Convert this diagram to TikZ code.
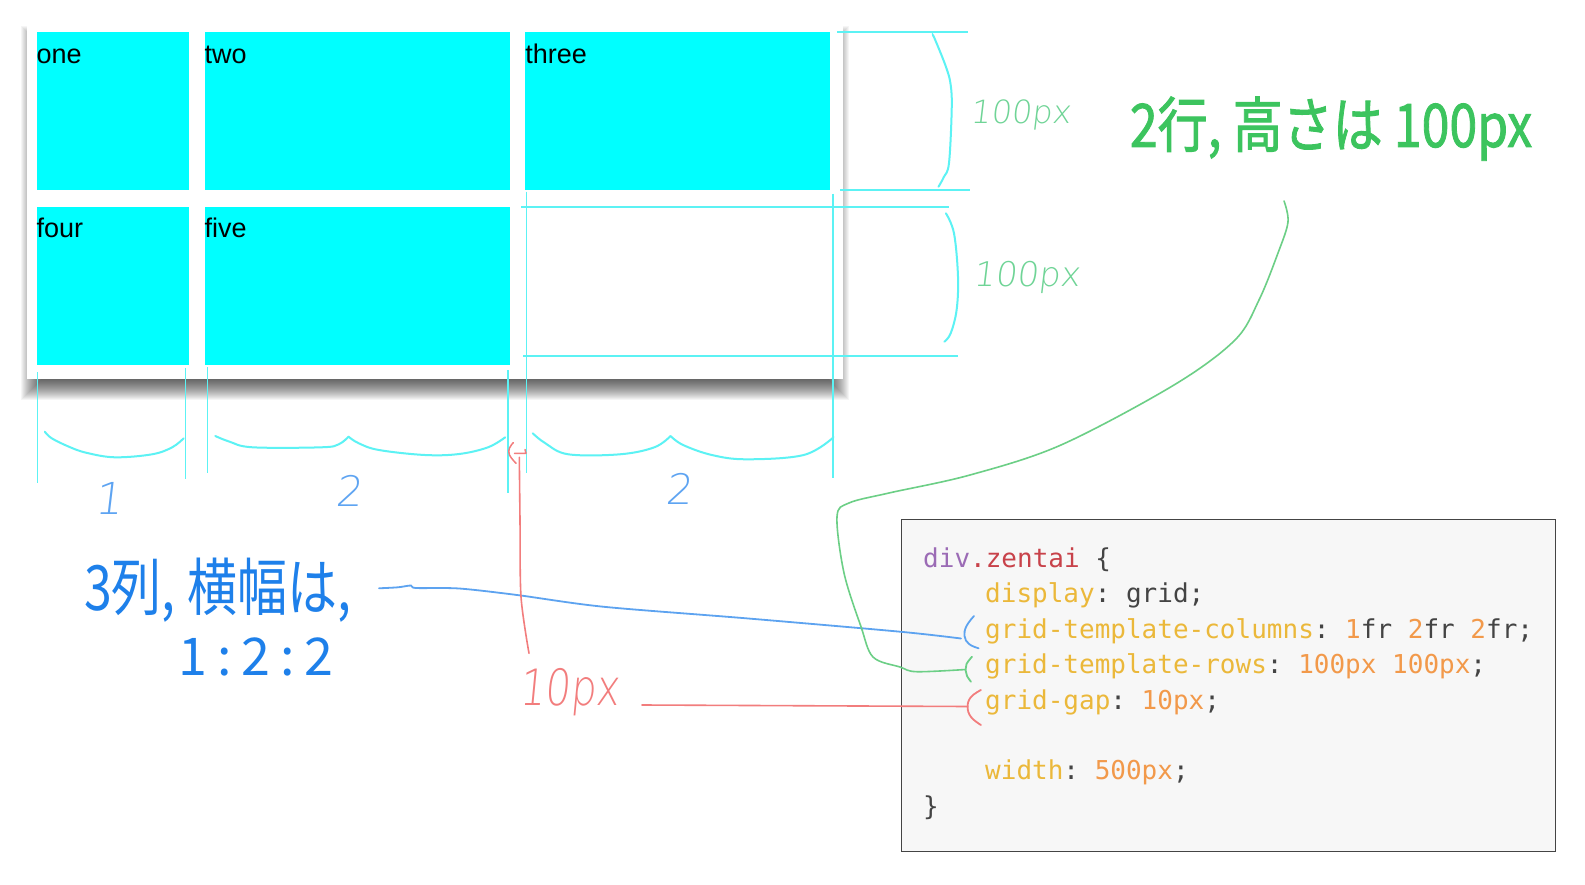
\documentclass[tikz,border=0pt]{standalone}
\usepackage{fontspec}
\setmainfont{Liberation Sans}
\newfontfamily\jp{Noto Sans CJK JP}
\newfontfamily\jpb[FakeBold=1.6]{Noto Sans CJK JP}
\newfontfamily\thinf[FakeSlant=0.12]{DejaVu Sans ExtraLight}
\newfontfamily\codef{DejaVu Sans Mono}
\definecolor{cellcyan}{HTML}{00FFFF}
\definecolor{anncyan}{HTML}{5CF2F4}
\definecolor{thingreen}{HTML}{6FD496}
\definecolor{boldgreen}{HTML}{3CC45E}
\definecolor{curvegreen}{HTML}{6CCF86}
\definecolor{blueT}{HTML}{1E80EA}
\definecolor{blueD}{HTML}{5EA4F2}
\definecolor{blueL}{HTML}{5DA3F0}
\definecolor{redann}{HTML}{F27D7D}
\definecolor{codebg}{HTML}{F7F7F7}
\definecolor{cpurple}{HTML}{9B6BB5}
\definecolor{cred}{HTML}{C8424A}
\definecolor{cgold}{HTML}{EBB83A}
\definecolor{corange}{HTML}{F2994A}
\definecolor{cgray}{HTML}{444444}
\newcommand{\pr}[1]{\textcolor{cgold}{#1}}
\newcommand{\vl}[1]{\textcolor{corange}{#1}}
\newcommand{\pn}[1]{\textcolor{cgray}{#1}}
\begin{document}
\begin{tikzpicture}[x=1pt,y=-1pt,
  cell/.style={fill=cellcyan,draw=none,inner sep=0,anchor=north west,minimum width=#1},
  celltext/.style={anchor=base west,inner sep=0,font=\fontsize{27}{32}\selectfont},
  cyanv/.style={draw=anncyan,line width=1.3pt},
  cyanh/.style={draw=anncyan,line width=2.2pt},
  cyanb/.style={draw=anncyan,line width=2pt,line cap=round},
  codeline/.style={anchor=base west,inner sep=0,font=\codef\fontsize{26}{30}\selectfont},
  thinlbl/.style={anchor=base west,inner sep=0},
  conn/.style={line width=1.8pt,line cap=round,line join=round}]
\useasboundingbox (0,0) rectangle (1585,885);
\fill[white] (0,0) rectangle (1585,885);
% card shadow
\foreach \d in {-14,...,14}
  \fill[black,opacity=0.04] (35-\d,40-\d) rectangle (835+\d,386+\d);
\node[fill=white,inner sep=0,anchor=north west,minimum width=816pt,minimum height=358pt] (card) at (27,20.5) {};
% cells
\node[cell=152.3pt,minimum height=158pt] (c1) at (36.3,32.3) {};
\node[cell=305.2pt,minimum height=158pt] (c2) at (204.3,32.3) {};
\node[cell=304.6pt,minimum height=158pt] (c3) at (525.2,32.3) {};
\node[cell=152.3pt,minimum height=158.3pt] (c4) at (36.3,206.7) {};
\node[cell=305.2pt,minimum height=158.3pt] (c5) at (204.3,206.7) {};
\node[celltext] (t1) at (36.3,63.3) {one};
\node[celltext] (t2) at (204.3,63.3) {two};
\node[celltext] (t3) at (525.2,63.3) {three};
\node[celltext] (t4) at (36.3,237.5) {four};
\node[celltext] (t5) at (204.3,237.5) {five};
% cyan measurement lines (right)
\draw[cyanh] (837,32.3) -- (968,32.3);
\draw[cyanh] (840,190) -- (970,190);
\draw[cyanh] (521,206.7) -- (949,206.7);
\draw[cyanh] (523,356) -- (958,356);
\draw[cyanv] (526.8,191.7) -- (526.8,473.3);
\draw[cyanv] (833,194) -- (833,478.3);
\draw[cyanb] plot[smooth,tension=0.6] coordinates {(933,36) (934.6,38.5) (945.9,66.7) (950.7,85) (951.7,110) (949,163) (944,176.7) (938.5,186.7)};
\draw[cyanb] plot[smooth,tension=0.6] coordinates {(945.9,213.3) (954,233.3) (958,276.7) (956.6,310) (950.7,333.3) (944.4,341.7)};
% cyan measurement lines (bottom)
\draw[cyanv] (37.3,372) -- (37.3,483.3);
\draw[cyanv] (185.4,368) -- (185.4,479.3);
\draw[cyanv] (207.8,367) -- (207.8,472.7);
\draw[cyanv] (508,370) -- (508,493.3);
\draw[cyanb] plot[smooth,tension=0.6] coordinates {(44.8,431.7) (51.7,438.3) (68.9,446.7) (86.1,452.7) (114.8,457.3) (152.1,454.3) (172.2,447.3) (183.7,438.3)};
\draw[cyanb] plot[smooth,tension=0.6] coordinates {(215.3,436) (229.6,441.7) (252.6,447.3) (321.5,447.3) (338.7,444.3) (348.5,436.7)};
\draw[cyanb] plot[smooth,tension=0.6] coordinates {(348.5,436.7) (358.8,443.3) (378.9,450) (424.8,455) (459.2,454) (488,447.3) (505.2,437.3)};
\draw[cyanb] plot[smooth,tension=0.6] coordinates {(532.7,433.3) (545.4,443.3) (568.3,454.3) (620,454.3) (654.4,447.3) (670.5,436)};
\draw[cyanb] plot[smooth,tension=0.6] coordinates {(670.5,436) (683.1,445) (711.8,455) (746.3,459.3) (803.7,455) (833.5,437.3)};
% thin labels
\node[thinlbl,text=thingreen,font=\thinf\fontsize{32}{36}\selectfont] (h1) at (970,123.5) {100px};
\node[thinlbl,text=thingreen,font=\thinf\fontsize{34}{38}\selectfont] (h2) at (973,287) {100px};
\node[thinlbl,text=blueD,font=\thinf\fontsize{44}{48}\selectfont] (d1) at (94,514) {1};
\node[thinlbl,text=blueD,font=\thinf\fontsize{42}{48}\selectfont] (d2) at (335,506) {2};
\node[thinlbl,text=blueD,font=\thinf\fontsize{42}{48}\selectfont] (d3) at (665,504) {2};
\node[thinlbl,text=redann,font=\thinf\fontsize{40}{48}\selectfont] (gap) at (519,705) {\scalebox{1}[1.25]{10px}};
% japanese annotations
\node[anchor=base,inner sep=0,text=boldgreen,font=\jpb\fontsize{50}{56}\selectfont] (rows) at (1331,147) {\scalebox{1}[1.2]{2行, 高さは 100px}};
\node[anchor=base west,inner sep=0,text=blueT,font=\jp\fontsize{50}{56}\selectfont] (cols) at (84,610) {\scalebox{1}[1.25]{3列, 横幅は,}};
\node[anchor=base west,inner sep=0,text=blueT,font=\jp\fontsize{52}{56}\selectfont] (ratio) at (178,675) {1\hspace{10pt}:\hspace{10pt}2\hspace{10pt}:\hspace{10pt}2};
% code box
\node[draw=cgray,line width=0.9pt,fill=codebg,inner sep=0,anchor=north west,minimum width=654pt,minimum height=332.5pt] (code) at (900.6,518.5) {};
\node[codeline] (l1) at (923,567) {\textcolor{cpurple}{div}\textcolor{cred}{.zentai}\ \pn{\{}};
\node[codeline] (l2) at (985,602.5) {\pr{display}\pn{:}\ \pn{grid;}};
\node[codeline] (l3) at (985,638) {\pr{grid-template-columns}\pn{:}\ \vl{1}\pn{fr}\ \vl{2}\pn{fr}\ \vl{2}\pn{fr;}};
\node[codeline] (l4) at (985,673.5) {\pr{grid-template-rows}\pn{:}\ \vl{100px}\ \vl{100px}\pn{;}};
\node[codeline] (l5) at (985,709) {\pr{grid-gap}\pn{:}\ \vl{10px}\pn{;}};
\node[codeline] (l6) at (985,779.5) {\pr{width}\pn{:}\ \vl{500px}\pn{;}};
\node[codeline] (l7) at (923,815) {\pn{\}}};
% bracket marks by the code
\coordinate (bb) at (961,638.5);
\coordinate (gb) at (965.5,669.5);
\coordinate (rb) at (967.6,706.5);
\draw[blueL,conn] plot[smooth,tension=0.7] coordinates {(974,616) (966.5,626) (964.5,636) (969,644) (978.6,648.3)};
\draw[curvegreen,conn] plot[smooth,tension=0.7] coordinates {(972,656.7) (966.5,664) (965.5,670) (967,676) (971,681.7)};
\draw[redann,conn] plot[smooth,tension=0.7] coordinates {(980.9,690) (971,697) (967.6,706.7) (971,717) (980.9,725)};
% connectors
\coordinate (bs) at (379,588.3);
\draw[blueL,conn] plot[smooth,tension=0.5] coordinates {(bs) (398,587.3) (411,585.5) (416,588) (459,588.5) (517,595) (603,606.7) (746,618.3) (900,631.7) (bb)};
\coordinate (gs) at (1284,201);
\draw[curvegreen,conn,line width=1.6pt] plot[smooth,tension=0.55] coordinates {(gs) (1288,222) (1278,253) (1259,300) (1235,340) (1174,385) (1061,445) (970,475) (889,493) (849,503) (837,516.7) (844,573) (861,626.7) (873,657) (900,667) (916.6,671.7) (gb)};
\coordinate (rs) at (641.8,705);
\draw[redann,conn,line width=1.6pt] (rs) -- (rb);
\coordinate (ra) at (519.3,457.3);
\coordinate (rt) at (529,653.3);
\draw[redann,conn,line width=1.6pt] plot[smooth,tension=0.5] coordinates {(ra) (520,520) (521,596.7) (rt)};
\draw[redann,conn,line width=1.5pt] plot[smooth,tension=0.7] coordinates {(513.3,442.7) (509.5,448) (509.5,455) (516,463.3)};
\draw[redann,conn,line width=1.5pt] (514.5,453.3) -- (526,453.3) -- (525,449.5);
\end{tikzpicture}
\end{document}
